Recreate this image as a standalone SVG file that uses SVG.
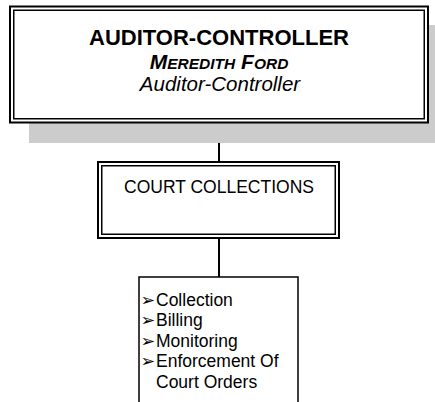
<svg xmlns="http://www.w3.org/2000/svg" width="435" height="402" viewBox="0 0 435 402">
<style>
.outer{fill:#fff;stroke:#000;stroke-width:2}
.inner{fill:none;stroke:#000;stroke-width:1.5}
.conn{stroke:#000;stroke-width:2;fill:none}
text{font-family:"Liberation Sans",Arial,sans-serif;fill:#000}
.list{font-size:17.5px}
.bul{font-family:"DejaVu Sans",sans-serif;font-size:17.5px}
</style>
<rect width="435" height="402" fill="#fff"/>
<g id="connectors">
<line class="conn" x1="219" y1="123" x2="219" y2="162"/>
<line class="conn" x1="219" y1="238" x2="219" y2="277"/>
</g>
<g id="auditor-controller">
<rect x="29" y="25" width="420" height="118" fill="#cccccc"/>
<rect class="outer" x="10" y="6.5" width="418" height="116"/>
<rect class="inner" x="13.75" y="10.25" width="410.5" height="108.5"/>
<text x="219" y="45" text-anchor="middle" font-size="22" font-weight="bold">AUDITOR-CONTROLLER</text>
<text x="219" y="68.5" text-anchor="middle" font-size="21" font-weight="bold" font-style="italic">M<tspan font-size="15.5">EREDITH</tspan> F<tspan font-size="15.5">ORD</tspan></text>
<text x="220" y="91" text-anchor="middle" font-size="20.5" font-style="italic">Auditor-Controller</text>
</g>
<g id="court-collections">
<rect class="outer" x="98" y="162" width="241" height="76"/>
<rect class="inner" x="101.75" y="165.75" width="233.5" height="68.5"/>
<text x="219" y="193" text-anchor="middle" font-size="17.5">COURT COLLECTIONS</text>
</g>
<g id="duties">
<rect x="139" y="277" width="159" height="140" fill="#fff" stroke="#000" stroke-width="1.5"/>
<text class="bul" x="140.5" y="305.5">➢</text>
<text class="bul" x="140.5" y="326">➢</text>
<text class="bul" x="140.5" y="346.5">➢</text>
<text class="bul" x="140.5" y="367">➢</text>
<text class="list" x="156" y="305.5">Collection</text>
<text class="list" x="156" y="326">Billing</text>
<text class="list" x="156" y="346.5">Monitoring</text>
<text class="list" x="156" y="367">Enforcement Of</text>
<text class="list" x="156" y="387.5">Court Orders</text>
</g>
</svg>
